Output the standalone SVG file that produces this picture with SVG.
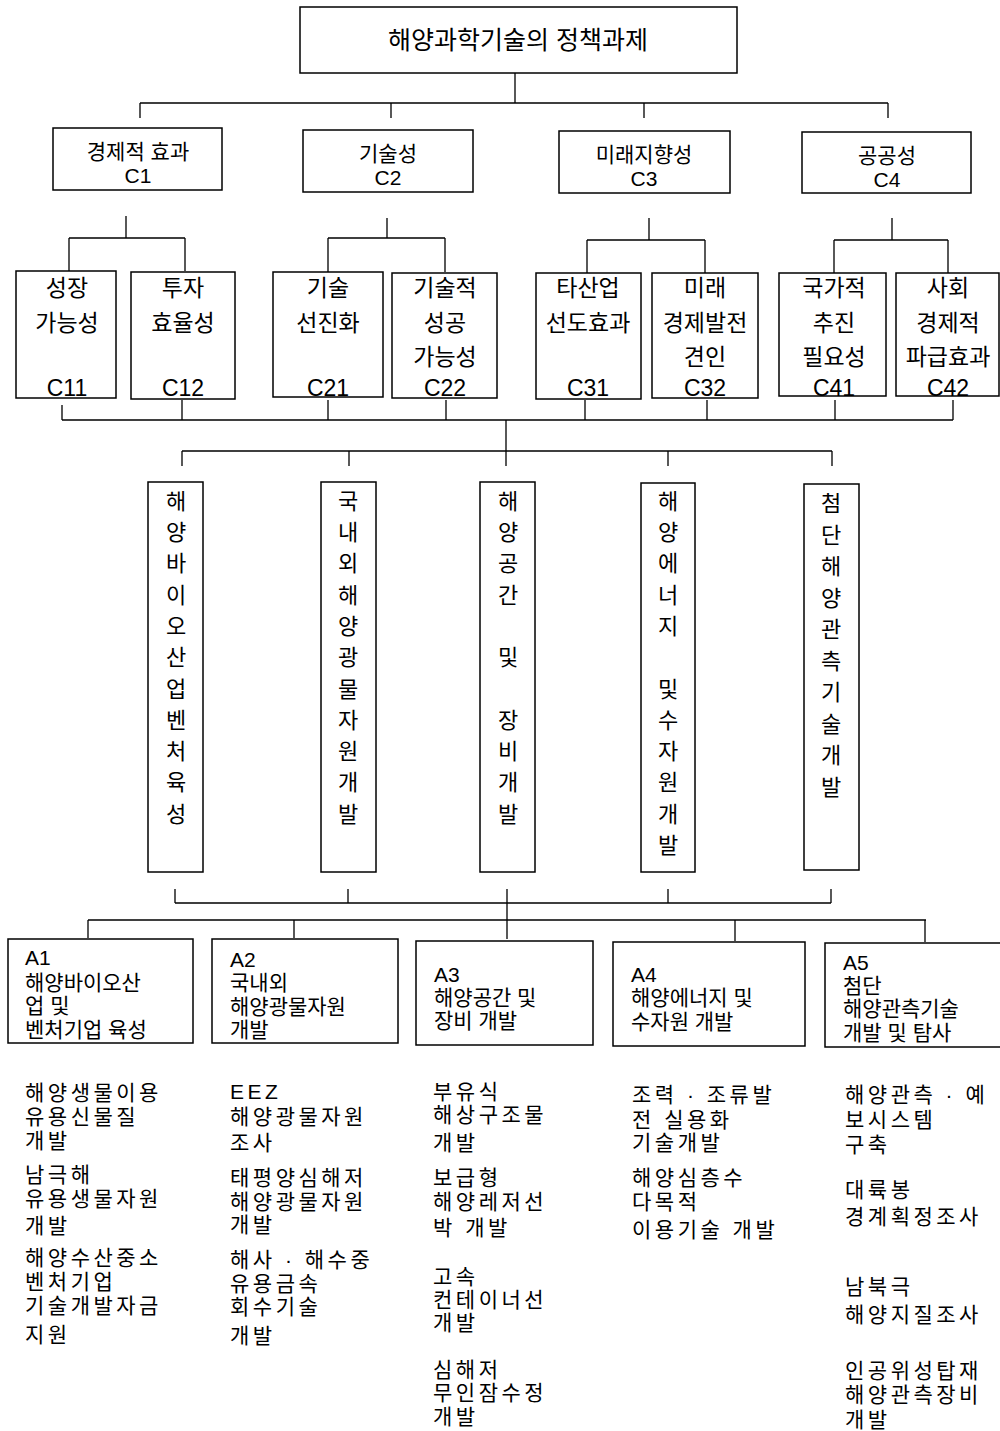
<svg xmlns="http://www.w3.org/2000/svg" width="1000" height="1431" viewBox="0 0 1000 1431">
<style>
.bg{fill:#fff}
.box{fill:#fff;stroke:#000;stroke-width:1.5}
.ln{stroke:#000;stroke-width:1.3;fill:none}
text{font-family:"Liberation Sans","Noto Sans CJK KR",sans-serif;fill:#000}
.t{font-size:25px;text-anchor:middle}
.c{font-size:21px;text-anchor:middle}
.s{font-size:23px;text-anchor:middle}
.v{font-size:22px;text-anchor:middle}
.a{font-size:21px}
.l{font-size:21px;letter-spacing:3.5px}
</style>
<rect class="bg" x="0" y="0" width="1000" height="1431"/>
<g id="connectors">
<path class="ln" d="M515 73V103M140 103H888M140 103V118M391 103V118M644 103V118M888 103V118"/>
<path class="ln" d="M126 216V238M69 238H185M69 238V271M185 238V271"/>
<path class="ln" d="M387 218V238M328 238H445M328 238V272M445 238V272"/>
<path class="ln" d="M649 218V240M587 240H705M587 240V273M705 240V273"/>
<path class="ln" d="M892 218V240M834 240H948M834 240V273M948 240V273"/>
<path class="ln" d="M62 405V420M182 400V420M328 400V420M446 400V420M585 400V420M707 400V420M835 400V420M953 400V420M62 420H953"/>
<path class="ln" d="M506 420V451M182 451H832M182 451V466M349 451V466M506 451V466M668 451V466M832 451V466"/>
<path class="ln" d="M175 889V903M348 889V903M507 889V903M668 889V903M831 889V903M175 903H831"/>
<path class="ln" d="M507 903V939M88 920H926M88 920V938M294 920V938M735 920V941M925 920V942"/>
</g>
<g id="root">
<rect class="box" x="300" y="7" width="437" height="66"/>
<text class="t" x="518" y="49">해양과학기술의 정책과제</text>
</g>
<g id="C1">
<rect class="box" x="53" y="128" width="169" height="62"/>
<text class="c" x="138" y="159">경제적 효과</text>
<text class="c" x="138" y="183">C1</text>
</g>
<g id="C2">
<rect class="box" x="303" y="130" width="170" height="62"/>
<text class="c" x="388" y="161">기술성</text>
<text class="c" x="388" y="185">C2</text>
</g>
<g id="C3">
<rect class="box" x="559" y="131" width="171" height="62"/>
<text class="c" x="644" y="162">미래지향성</text>
<text class="c" x="644" y="186">C3</text>
</g>
<g id="C4">
<rect class="box" x="802" y="132" width="169" height="61"/>
<text class="c" x="887" y="163">공공성</text>
<text class="c" x="887" y="187">C4</text>
</g>
<g id="C11">
<rect class="box" x="16" y="271" width="100" height="127"/>
<text class="s" x="67" y="296">성장</text>
<text class="s" x="67" y="331">가능성</text>
<text class="s" x="67" y="396">C11</text>
</g>
<g id="C12">
<rect class="box" x="131" y="272" width="104" height="127"/>
<text class="s" x="183" y="296">투자</text>
<text class="s" x="183" y="331">효율성</text>
<text class="s" x="183" y="396">C12</text>
</g>
<g id="C21">
<rect class="box" x="273" y="272" width="110" height="125"/>
<text class="s" x="328" y="296">기술</text>
<text class="s" x="328" y="331">선진화</text>
<text class="s" x="328" y="396">C21</text>
</g>
<g id="C22">
<rect class="box" x="392" y="273" width="105" height="125"/>
<text class="s" x="445" y="296">기술적</text>
<text class="s" x="445" y="331">성공</text>
<text class="s" x="445" y="365">가능성</text>
<text class="s" x="445" y="396">C22</text>
</g>
<g id="C31">
<rect class="box" x="536" y="273" width="105" height="126"/>
<text class="s" x="588" y="296">타산업</text>
<text class="s" x="588" y="331">선도효과</text>
<text class="s" x="588" y="396">C31</text>
</g>
<g id="C32">
<rect class="box" x="652" y="273" width="106" height="125"/>
<text class="s" x="705" y="296">미래</text>
<text class="s" x="705" y="331">경제발전</text>
<text class="s" x="705" y="365">견인</text>
<text class="s" x="705" y="396">C32</text>
</g>
<g id="C41">
<rect class="box" x="779" y="273" width="107" height="123"/>
<text class="s" x="834" y="296">국가적</text>
<text class="s" x="834" y="331">추진</text>
<text class="s" x="834" y="365">필요성</text>
<text class="s" x="834" y="396">C41</text>
</g>
<g id="C42">
<rect class="box" x="896" y="273" width="103" height="123"/>
<text class="s" x="948" y="296">사회</text>
<text class="s" x="948" y="331">경제적</text>
<text class="s" x="948" y="365">파급효과</text>
<text class="s" x="948" y="396">C42</text>
</g>
<g id="V1">
<rect class="box" x="148" y="482" width="55" height="390"/>
<text class="v" x="176" y="509">해</text><text class="v" x="176" y="540">양</text><text class="v" x="176" y="571">바</text><text class="v" x="176" y="603">이</text><text class="v" x="176" y="634">오</text><text class="v" x="176" y="665">산</text><text class="v" x="176" y="697">업</text><text class="v" x="176" y="728">벤</text><text class="v" x="176" y="759">처</text><text class="v" x="176" y="790">육</text><text class="v" x="176" y="822">성</text>
</g>
<g id="V2">
<rect class="box" x="321" y="482" width="55" height="390"/>
<text class="v" x="348" y="509">국</text><text class="v" x="348" y="540">내</text><text class="v" x="348" y="571">외</text><text class="v" x="348" y="603">해</text><text class="v" x="348" y="634">양</text><text class="v" x="348" y="665">광</text><text class="v" x="348" y="697">물</text><text class="v" x="348" y="728">자</text><text class="v" x="348" y="759">원</text><text class="v" x="348" y="790">개</text><text class="v" x="348" y="822">발</text>
</g>
<g id="V3">
<rect class="box" x="480" y="482" width="55" height="390"/>
<text class="v" x="508" y="509">해</text><text class="v" x="508" y="540">양</text><text class="v" x="508" y="571">공</text><text class="v" x="508" y="603">간</text><text class="v" x="508" y="665">및</text><text class="v" x="508" y="728">장</text><text class="v" x="508" y="759">비</text><text class="v" x="508" y="790">개</text><text class="v" x="508" y="822">발</text>
</g>
<g id="V4">
<rect class="box" x="641" y="483" width="54" height="389"/>
<text class="v" x="668" y="509">해</text><text class="v" x="668" y="540">양</text><text class="v" x="668" y="571">에</text><text class="v" x="668" y="603">너</text><text class="v" x="668" y="634">지</text><text class="v" x="668" y="697">및</text><text class="v" x="668" y="728">수</text><text class="v" x="668" y="759">자</text><text class="v" x="668" y="790">원</text><text class="v" x="668" y="822">개</text><text class="v" x="668" y="853">발</text>
</g>
<g id="V5">
<rect class="box" x="804" y="484" width="55" height="386"/>
<text class="v" x="831" y="511">첨</text><text class="v" x="831" y="543">단</text><text class="v" x="831" y="574">해</text><text class="v" x="831" y="606">양</text><text class="v" x="831" y="637">관</text><text class="v" x="831" y="669">측</text><text class="v" x="831" y="700">기</text><text class="v" x="831" y="732">술</text><text class="v" x="831" y="763">개</text><text class="v" x="831" y="795">발</text>
</g>
<g id="A1">
<rect class="box" x="8" y="939" width="185" height="104"/>
<text class="a" x="25" y="965">A1</text>
<text class="a" x="25" y="990">해양바이오산</text>
<text class="a" x="25" y="1013">업 및</text>
<text class="a" x="25" y="1037">벤처기업 육성</text>
</g>
<g id="A2">
<rect class="box" x="212" y="939" width="186" height="104"/>
<text class="a" x="230" y="967">A2</text>
<text class="a" x="230" y="990">국내외</text>
<text class="a" x="230" y="1014">해양광물자원</text>
<text class="a" x="230" y="1037">개발</text>
</g>
<g id="A3">
<rect class="box" x="416" y="941" width="177" height="104"/>
<text class="a" x="434" y="982">A3</text>
<text class="a" x="434" y="1005">해양공간 및</text>
<text class="a" x="434" y="1028">장비 개발</text>
</g>
<g id="A4">
<rect class="box" x="613" y="942" width="192" height="104"/>
<text class="a" x="631" y="982">A4</text>
<text class="a" x="631" y="1005">해양에너지 및</text>
<text class="a" x="631" y="1029">수자원 개발</text>
</g>
<g id="A5">
<rect class="box" x="825" y="943" width="180" height="104"/>
<text class="a" x="843" y="970">A5</text>
<text class="a" x="843" y="993">첨단</text>
<text class="a" x="843" y="1016">해양관측기술</text>
<text class="a" x="843" y="1040">개발 및 탐사</text>
</g>
<g id="list1">
<text class="l" x="25" y="1100">해양생물이용</text>
<text class="l" x="25" y="1124">유용신물질</text>
<text class="l" x="25" y="1148">개발</text>
<text class="l" x="25" y="1182">남극해</text>
<text class="l" x="25" y="1206">유용생물자원</text>
<text class="l" x="25" y="1233">개발</text>
<text class="l" x="25" y="1265">해양수산중소</text>
<text class="l" x="25" y="1289">벤처기업</text>
<text class="l" x="25" y="1313">기술개발자금</text>
<text class="l" x="25" y="1342">지원</text>
</g>
<g id="list2">
<text class="l" x="230" y="1099">EEZ</text>
<text class="l" x="230" y="1124">해양광물자원</text>
<text class="l" x="230" y="1150">조사</text>
<text class="l" x="230" y="1185">태평양심해저</text>
<text class="l" x="230" y="1209">해양광물자원</text>
<text class="l" x="230" y="1232">개발</text>
<text class="l" x="230" y="1267">해사 · 해수중</text>
<text class="l" x="230" y="1291">유용금속</text>
<text class="l" x="230" y="1314">회수기술</text>
<text class="l" x="230" y="1343">개발</text>
</g>
<g id="list3">
<text class="l" x="433" y="1099">부유식</text>
<text class="l" x="433" y="1122">해상구조물</text>
<text class="l" x="433" y="1150">개발</text>
<text class="l" x="433" y="1185">보급형</text>
<text class="l" x="433" y="1209">해양레저선</text>
<text class="l" x="433" y="1235">박 개발</text>
<text class="l" x="433" y="1284">고속</text>
<text class="l" x="433" y="1307">컨테이너선</text>
<text class="l" x="433" y="1330">개발</text>
<text class="l" x="433" y="1377">심해저</text>
<text class="l" x="433" y="1400">무인잠수정</text>
<text class="l" x="433" y="1424">개발</text>
</g>
<g id="list4">
<text class="l" x="632" y="1102">조력 · 조류발</text>
<text class="l" x="632" y="1127">전 실용화</text>
<text class="l" x="632" y="1150">기술개발</text>
<text class="l" x="632" y="1185">해양심층수</text>
<text class="l" x="632" y="1209">다목적</text>
<text class="l" x="632" y="1237">이용기술 개발</text>
</g>
<g id="list5">
<text class="l" x="845" y="1102">해양관측 · 예</text>
<text class="l" x="845" y="1127">보시스템</text>
<text class="l" x="845" y="1152">구축</text>
<text class="l" x="845" y="1197">대륙봉</text>
<text class="l" x="845" y="1224">경계획정조사</text>
<text class="l" x="845" y="1294">남북극</text>
<text class="l" x="845" y="1322">해양지질조사</text>
<text class="l" x="845" y="1378">인공위성탑재</text>
<text class="l" x="845" y="1402">해양관측장비</text>
<text class="l" x="845" y="1427">개발</text>
</g>
</svg>
